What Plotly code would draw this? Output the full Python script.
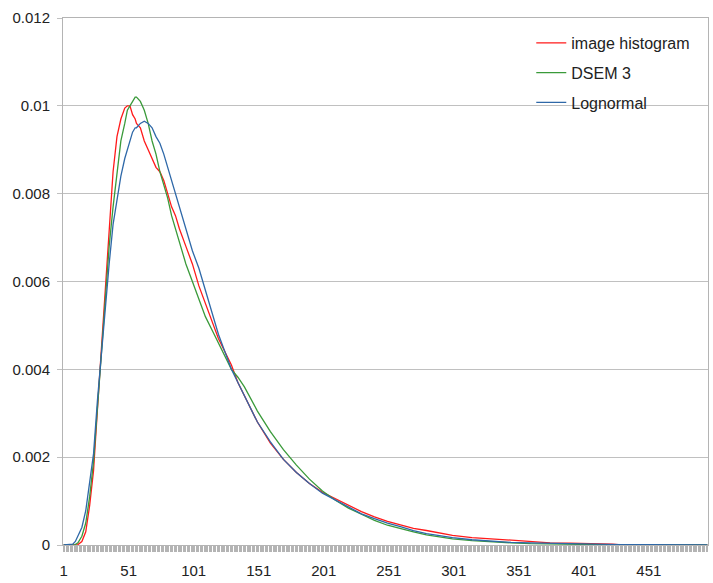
import plotly.graph_objects as go

# category index positions where values were read
x_vals = [1, 8, 10, 12, 15, 18, 21, 24, 27, 30, 33, 36, 39, 42, 45, 48, 50, 52, 54, 56, 57, 60,
          63, 66, 69, 72, 75, 78, 81, 84, 87, 90, 95, 100, 105, 110, 115, 120, 125, 130,
          135, 140, 150, 160, 170, 180, 190, 200, 210, 220, 230, 240, 250, 260, 270, 280,
          290, 300, 315, 330, 345, 360, 375, 390, 410, 423, 430, 450, 470, 496]

image_histogram = [0, 0, 0, 0.00001, 0.00008, 0.0003, 0.0009, 0.0017, 0.0031, 0.0045, 0.0059,
                   0.0072, 0.0085, 0.0093, 0.0097, 0.00995, 0.0100, 0.0100, 0.0098, 0.0097, 0.0096,
                   0.0095, 0.0092, 0.0090, 0.0088, 0.0086, 0.0085, 0.0083, 0.0080, 0.0077, 0.0075,
                   0.0072, 0.0068, 0.0064, 0.0059, 0.0055, 0.0051, 0.0047, 0.0044, 0.0041, 0.0037,
                   0.0034, 0.0028, 0.00232, 0.00195, 0.00165, 0.0014, 0.0012, 0.00105, 0.0009,
                   0.00076, 0.00064, 0.00054, 0.00046, 0.00038, 0.00033, 0.00027, 0.00022,
                   0.00017, 0.00014, 0.0001, 0.00008, 0.00005, 0.00004, 0.00003, 0.00002, 0,
                   0, 0, 0]

dsem3 = [0, 0, 0.00001, 0.00005, 0.0002, 0.0005, 0.0011, 0.0019, 0.0031, 0.0044, 0.0057,
         0.0068, 0.0077, 0.0085, 0.0092, 0.0096, 0.0099, 0.0100, 0.0101, 0.0102, 0.0102,
         0.0101, 0.0099, 0.0096, 0.0092, 0.0089, 0.0085, 0.0082, 0.0079, 0.0075, 0.0072,
         0.0069, 0.0064, 0.0060, 0.0056, 0.0052, 0.0049, 0.0046, 0.0043, 0.0040, 0.00382,
         0.0036, 0.00305, 0.00258, 0.00217, 0.00182, 0.0015, 0.00123, 0.00102, 0.00084,
         0.0007, 0.00056, 0.00045, 0.00037, 0.0003, 0.00023, 0.00018, 0.00014, 0.0001,
         0.00007, 0.00005, 0.00003, 0.00002, 0.00002, 0.00001, 0.00001, 0, 0, 0, 0]

lognormal = [0, 0.00002, 0.00008, 0.0002, 0.0004, 0.00078, 0.0014, 0.00208, 0.0033, 0.0044,
             0.0055, 0.0064, 0.0073, 0.0079, 0.0084, 0.0088, 0.0090, 0.0092, 0.0094, 0.0095,
             0.0095, 0.0096, 0.00965, 0.0096, 0.0095, 0.0093, 0.00915, 0.0089, 0.0086, 0.0083,
             0.0080, 0.0077, 0.0072, 0.0067, 0.0063, 0.0058, 0.0053, 0.0048, 0.0044, 0.0040,
             0.0037, 0.0034, 0.0028, 0.00235, 0.00195, 0.00165, 0.0014, 0.00118, 0.00102,
             0.00087, 0.00071, 0.0006, 0.0005, 0.00042, 0.00033, 0.00026, 0.00021, 0.00017,
             0.00012, 0.00009, 0.00006, 0.00005, 0.00004, 0.00003, 0.00002, 0.00002, 0.00001,
             0.00001, 0.00001, 0]

series_names = ["image histogram", "DSEM 3", "Lognormal"]
series_colors = ["#ff1a1a", "#3a9a3a", "#2e68a8"]

x_tick_vals = [1, 51, 101, 151, 201, 251, 301, 351, 401, 451]
x_tick_text = ["1", "51", "101", "151", "201", "251", "301", "351", "401", "451"]
y_tick_vals = [0, 0.002, 0.004, 0.006, 0.008, 0.01, 0.012]
y_tick_text = ["0", "0.002", "0.004", "0.006", "0.008", "0.01", "0.012"]

fig = go.Figure()
for name, ys, col in zip(series_names, [image_histogram, dsem3, lognormal], series_colors):
    fig.add_trace(go.Scatter(x=x_vals, y=ys, mode="lines", name=name, legendgroup=name,
                             line=dict(color=col, width=1.3)))

font = dict(family="Liberation Sans, Arial, sans-serif", size=15, color="#222222")
fig.update_layout(
    width=713, height=583,
    margin=dict(l=63, r=4, t=18, b=36),
    paper_bgcolor="white", plot_bgcolor="white",
    font=font,
    showlegend=True,
    legend=dict(x=0.726, y=0.985, xanchor="left", yanchor="top",
                bgcolor="rgba(0,0,0,0)", font=dict(family=font["family"], size=16, color="#222222"),
                tracegroupgap=6),
    xaxis=dict(range=[0.5, 496.5], tickvals=x_tick_vals, ticktext=x_tick_text,
               showgrid=False, zeroline=False, showline=True, linecolor="#b4b4b4", linewidth=1,
               mirror=True, ticks="outside", ticklen=6, tickcolor="#b4b4b4",
               minor=dict(dtick=1, tick0=1, ticks="outside", ticklen=6, tickcolor="#b4b4b4",
                          showgrid=False),
               ticklabelstandoff=6),
    yaxis=dict(range=[0, 0.012], tickvals=y_tick_vals, ticktext=y_tick_text,
               showgrid=True, gridcolor="#c0c0c0", gridwidth=1, zeroline=False,
               showline=True, linecolor="#b4b4b4", linewidth=1, mirror=True,
               ticks="outside", ticklen=5, tickcolor="#c0c0c0", ticklabelstandoff=4),
)

fig.write_html("out.html", config={"displayModeBar": False},
               post_script="document.body.style.margin='0';")
